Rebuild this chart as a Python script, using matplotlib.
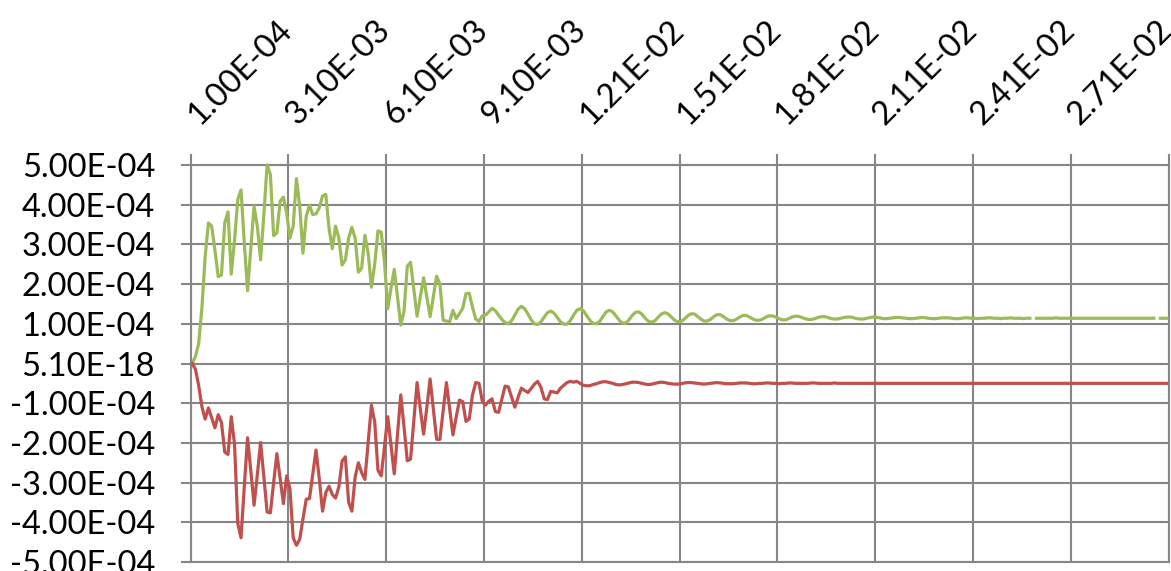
import numpy as np
import matplotlib
matplotlib.use("Agg")
import matplotlib.pyplot as plt
import matplotlib.transforms as mtransforms

# Displacement response of the two measurement channels (units of 1e-4);
# None marks a missing sample
upper_e4 = [
    0.00, 0.17, 0.50, 1.40, 2.70, 3.54, 3.46, 2.85, 2.19, 2.23,
    3.54, 3.82, 2.25, 3.10, 4.13, 4.37, 3.05, 1.83, 2.90, 3.96,
    3.46, 2.61, 3.75, 5.00, 4.76, 3.22, 3.29, 4.09, 4.19, 3.79,
    3.16, 3.46, 4.66, 3.96, 2.78, 3.71, 3.99, 3.75, 3.77, 3.92,
    4.22, 4.26, 3.40, 2.89, 3.46, 3.16, 2.48, 2.61, 3.16, 3.43,
    3.16, 2.30, 2.40, 3.23, 2.78, 1.92, 2.50, 3.34, 3.31, 2.57,
    1.38, 1.90, 2.37, 1.67, 0.97, 1.32, 2.45, 2.55, 1.87, 1.19,
    1.68, 2.16, 1.67, 1.18, 1.69, 2.20, 2.00, 1.09, 1.07, 1.05,
    1.34, 1.13, 1.26, 1.39, 1.76, 1.77, 1.42, 1.12, 1.06, 1.20,
    1.22, 1.30, 1.39, 1.33, 1.22, 1.11, 1.03, 1.00, 1.08, 1.22,
    1.37, 1.44, 1.38, 1.25, 1.10, 1.00, 0.98, 1.05, 1.17, 1.28,
    1.32, 1.27, 1.16, 1.05, 0.99, 0.99, 1.08, 1.22, 1.34, 1.38,
    1.33, 1.21, 1.09, 1.01, 1.00, 1.06, 1.18, 1.30, 1.34, 1.30,
    1.20, 1.09, 1.02, 1.02, 1.10, 1.21, 1.29, 1.30, 1.24, 1.14,
    1.06, 1.04, 1.08, 1.17, 1.25, 1.28, 1.25, 1.17, 1.09, 1.05,
    1.06, 1.12, 1.20, 1.25, 1.25, 1.19, 1.12, 1.07, 1.07, 1.11,
    1.18, 1.23, 1.23, 1.18, 1.12, 1.08, 1.08, 1.12, 1.17, 1.21,
    1.21, 1.17, 1.12, 1.09, 1.09, 1.12, 1.17, 1.20, 1.20, 1.17,
    1.13, 1.10, 1.10, 1.13, 1.17, 1.19, 1.19, 1.16, 1.13, 1.11,
    1.11, 1.13, 1.16, 1.18, 1.18, 1.16, 1.13, 1.12, 1.12, 1.14,
    1.16, 1.17, 1.17, 1.15, 1.13, 1.12, 1.12, 1.14, 1.16, 1.17,
    1.16, 1.15, 1.13, 1.13, 1.14, 1.15, 1.16, 1.16, 1.15, 1.14,
    1.13, 1.13, 1.14, 1.15, 1.16, 1.15, 1.14, 1.13, 1.13, 1.14,
    1.15, 1.15, 1.15, 1.14, 1.13, 1.13, 1.14, 1.15, 1.15, 1.14,
    1.14, 1.13, 1.14, 1.14, 1.15, 1.15, 1.14, 1.14, 1.13, 1.14,
    1.14, 1.15, 1.14, 1.14, 1.14, 1.13, 1.14, 1.14, None, 1.14,
    1.14, 1.14, 1.14, 1.14, 1.14, 1.15, 1.14, 1.14, 1.14, 1.14,
    1.14, 1.14, 1.14, 1.14, 1.14, 1.14, 1.14, 1.14, 1.14, 1.14,
    1.14, 1.14, 1.14, 1.14, 1.14, 1.14, 1.14, 1.14, 1.14, 1.14,
    1.14, 1.14, 1.14, 1.14, 1.14, 1.14, None, 1.14, 1.14, 1.14,
]

lower_e4 = [
    0.00, -0.14, -0.55, -1.09, -1.40, -1.12, -1.37, -1.62, -1.29, -1.49,
    -2.23, -2.29, -1.34, -2.02, -4.03, -4.39, -3.10, -1.87, -2.70, -3.57,
    -2.80, -1.99, -2.85, -3.74, -3.76, -3.00, -2.27, -2.90, -3.53, -2.83,
    -3.15, -4.39, -4.58, -4.43, -3.91, -3.42, -3.40, -2.80, -2.18, -2.90,
    -3.72, -3.25, -3.09, -3.30, -3.39, -3.11, -2.46, -2.35, -3.49, -3.72,
    -2.86, -2.50, -2.75, -2.92, -2.00, -1.05, -1.47, -2.69, -2.83, -2.10,
    -1.34, -2.05, -2.78, -1.80, -0.79, -1.60, -2.45, -2.41, -1.45, -0.48,
    -1.15, -1.78, -1.10, -0.39, -1.15, -1.91, -1.91, -1.20, -0.48, -1.15,
    -1.80, -1.35, -0.92, -0.96, -1.46, -1.40, -0.79, -0.48, -0.50, -0.95,
    -1.05, -0.95, -0.89, -1.21, -1.23, -0.90, -0.57, -0.59, -0.85, -1.10,
    -0.85, -0.62, -0.68, -0.73, -0.63, -0.52, -0.45, -0.60, -0.89, -0.91,
    -0.70, -0.72, -0.74, -0.62, -0.55, -0.48, -0.45, -0.47, -0.45, -0.50,
    -0.55, -0.56, -0.56, -0.53, -0.51, -0.48, -0.46, -0.46, -0.48, -0.50,
    -0.53, -0.54, -0.53, -0.51, -0.49, -0.47, -0.47, -0.48, -0.50, -0.52,
    -0.53, -0.52, -0.50, -0.48, -0.47, -0.48, -0.50, -0.51, -0.52, -0.52,
    -0.51, -0.49, -0.48, -0.48, -0.49, -0.50, -0.51, -0.52, -0.51, -0.50,
    -0.49, -0.48, -0.49, -0.50, -0.51, -0.51, -0.51, -0.50, -0.49, -0.49,
    -0.49, -0.50, -0.51, -0.51, -0.50, -0.50, -0.49, -0.49, -0.50, -0.50,
    -0.51, -0.50, -0.50, -0.49, -0.49, -0.50, -0.50, -0.50, -0.50, -0.50,
    -0.49, -0.49, -0.50, -0.50, -0.50, -0.50, -0.50, -0.49, -0.50, -0.50,
    -0.50, -0.50, -0.50, -0.50, -0.50, -0.50, -0.50, -0.50, -0.50, -0.50,
    -0.50, -0.50, -0.50, -0.50, -0.50, -0.50, -0.50, -0.50, -0.50, -0.50,
    -0.50, -0.50, -0.50, -0.50, -0.50, -0.50, -0.50, -0.50, -0.50, -0.50,
    -0.50, -0.50, -0.50, -0.50, -0.50, -0.50, -0.50, -0.50, -0.50, -0.50,
    -0.50, -0.50, -0.50, -0.50, -0.50, -0.50, -0.50, -0.50, -0.50, -0.50,
    -0.50, -0.50, -0.50, -0.50, -0.50, -0.50, -0.50, -0.50, -0.50, -0.50,
    -0.50, -0.50, -0.50, -0.50, -0.50, -0.50, -0.50, -0.50, -0.50, -0.50,
    -0.50, -0.50, -0.50, -0.50, -0.50, -0.50, -0.50, -0.50, -0.50, -0.50,
    -0.50, -0.50, -0.50, -0.50, -0.50, -0.50, -0.50, -0.50, -0.50, -0.50,
    -0.50, -0.50, -0.50, -0.50, -0.50, -0.50, -0.50, -0.50, -0.50, -0.50,
]

x_labels = ["1.00E-04", "3.10E-03", "6.10E-03", "9.10E-03", "1.21E-02",
            "1.51E-02", "1.81E-02", "2.11E-02", "2.41E-02", "2.71E-02"]
y_ticks = [5e-4, 4e-4, 3e-4, 2e-4, 1e-4, 0.0, -1e-4, -2e-4, -3e-4, -4e-4, -5e-4]
y_labels = ["5.00E-04", "4.00E-04", "3.00E-04", "2.00E-04", "1.00E-04", "5.10E-18",
            "-1.00E-04", "-2.00E-04", "-3.00E-04", "-4.00E-04", "-5.00E-04"]

GREEN = "#9BBB59"
RED = "#C0504D"
GRID = "#868686"

plt.rcParams["font.family"] = ["Lato", "DejaVu Sans"]

upper = np.array(upper_e4, dtype=float) * 1e-4
lower = np.array(lower_e4, dtype=float) * 1e-4
n_cat = 300
xc = np.arange(len(upper)) + 0.5

fig = plt.figure(figsize=(11.71, 5.71), dpi=100)
ax = fig.add_axes([190.5 / 1171, 9 / 571, (1168.5 - 190.5) / 1171, (562 - 165) / 571])

ax.plot(xc, upper, color=GREEN, lw=2.3, solid_joinstyle="round", zorder=3, clip_on=False)
ax.plot(xc, lower, color=RED, lw=2.3, solid_joinstyle="round", zorder=3, clip_on=False)

ax.set_xlim(0, n_cat)
ax.set_ylim(-5e-4, 5e-4)

ax.set_xticks(np.arange(0, n_cat + 1, 30))
ax.set_xticklabels([])
ax.set_yticks(y_ticks)
ax.set_yticklabels(y_labels, fontsize=23.5)
ax.xaxis.tick_top()
ax.tick_params(axis="x", direction="out", length=8, width=1.5, color=GRID)
ax.tick_params(axis="y", direction="out", length=7.5, width=1.5, color=GRID, pad=18)
ax.grid(True, color=GRID, lw=1.5, zorder=1)
ax.set_axisbelow(True)
for side, sp in ax.spines.items():
    sp.set_color(GRID)
    sp.set_linewidth(1.5)

# rotated category labels above the plot
trans = mtransforms.blended_transform_factory(ax.transData, ax.transAxes)
for k, lab in enumerate(x_labels):
    off = mtransforms.offset_copy(trans, fig=fig, x=5.5, y=28, units="points")
    ax.text(30 * k + 0.5, 1.0, lab, transform=off, rotation=45,
            rotation_mode="anchor", ha="left", va="baseline", fontsize=23.5,
            clip_on=False)

fig.savefig("out.png", dpi=100, facecolor="white")
